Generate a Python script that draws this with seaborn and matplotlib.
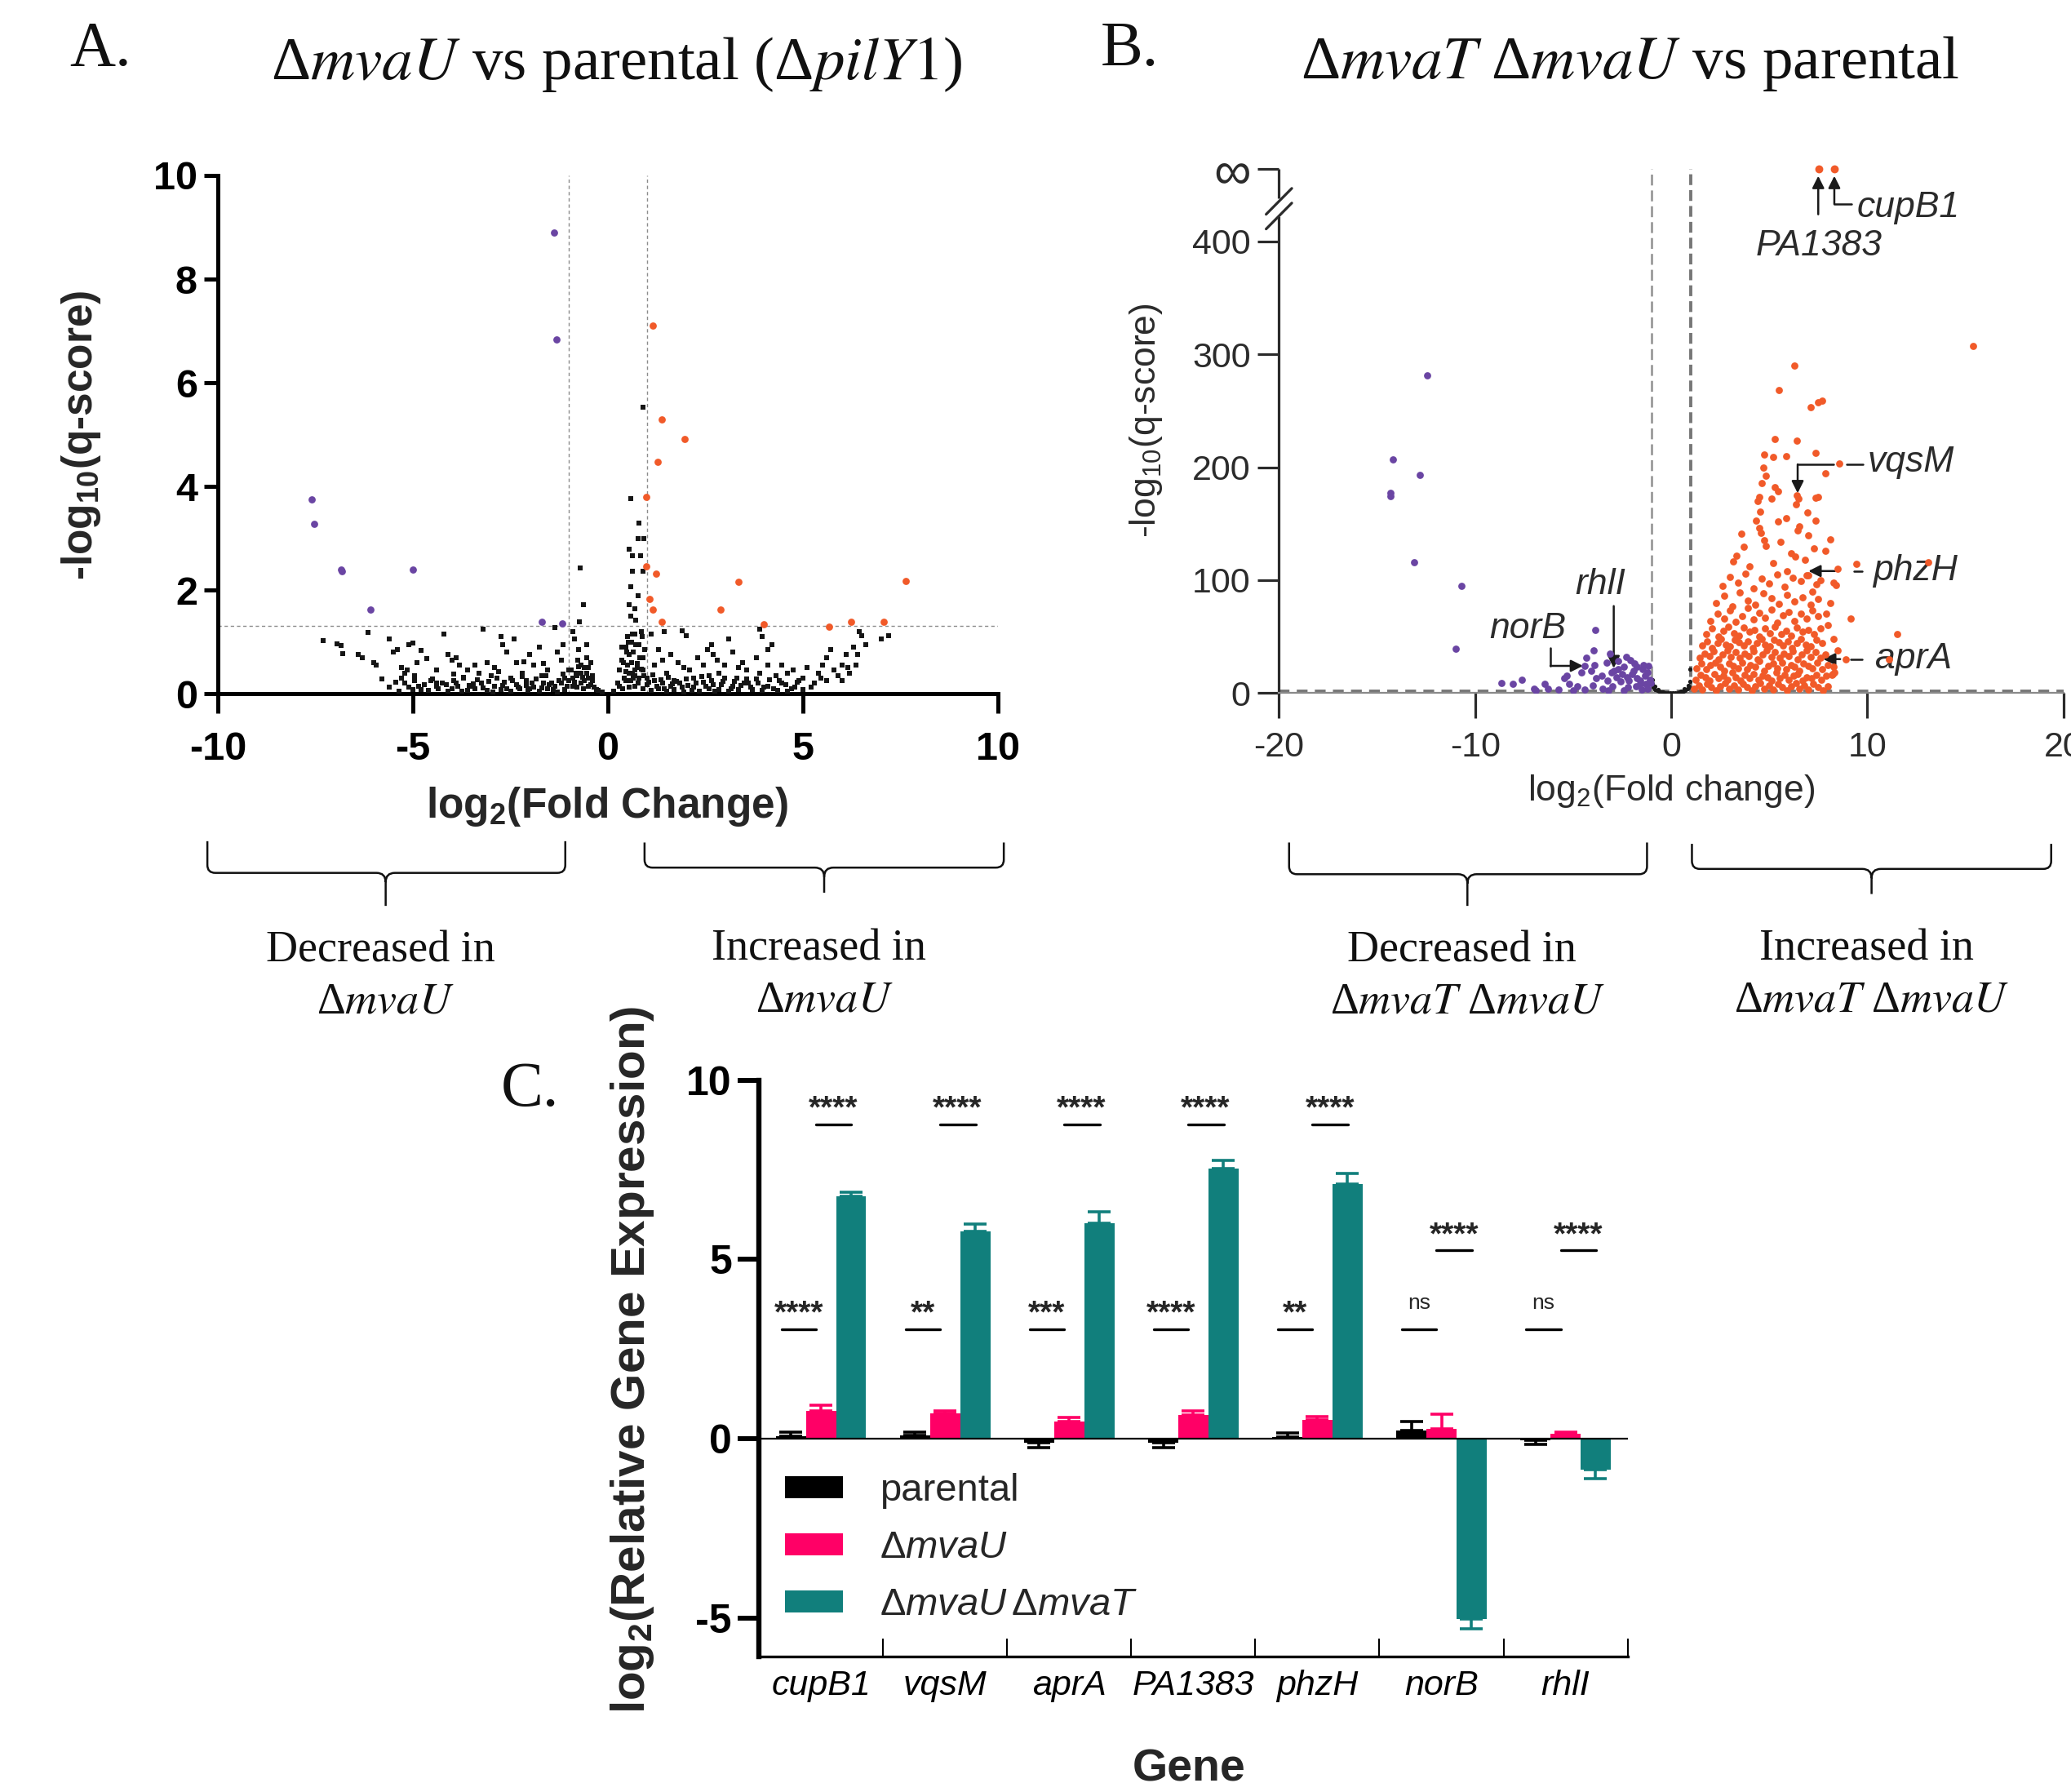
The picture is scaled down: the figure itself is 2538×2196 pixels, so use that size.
import numpy as np
import pandas as pd
import matplotlib
matplotlib.use("Agg")
import matplotlib.pyplot as plt
import seaborn as sns
from matplotlib.path import Path
from matplotlib.patches import PathPatch, Patch

# ======================= DATA =======================
# ---- Panel A : ΔmvaU vs parental (x = log2 FC, y = -log10 q) ----
a_purple = [(-1.39, 8.89), (-1.32, 6.83), (-7.60, 3.75), (-7.54, 3.28), (-6.85, 2.39),
            (-6.81, 2.36), (-5.00, 2.39), (-6.08, 1.62), (-1.69, 1.39), (-1.18, 1.36)]
a_orange = [(1.15, 7.10), (1.38, 5.29), (1.97, 4.92), (1.27, 4.48), (0.99, 3.80), (0.99, 2.46),
            (1.24, 2.32), (3.34, 2.16), (7.63, 2.17), (1.06, 1.82), (1.15, 1.62), (2.89, 1.62),
            (1.38, 1.39), (3.99, 1.34), (5.66, 1.29), (6.24, 1.38), (7.07, 1.38)]
a_black = [(0.89, 5.53), (-0.71, 2.42), (0.59, 3.77), (0.80, 3.29), (0.77, 2.99), (0.92, 2.99),
           (0.54, 2.79), (0.63, 2.66), (0.84, 2.66), (0.63, 2.36), (0.89, 2.36), (0.59, 2.07),
           (0.77, 1.89), (0.54, 1.72), (0.68, 1.64), (0.59, 1.49), (0.71, 1.42), (-0.63, 1.71),
           (-0.73, 1.39),
           (-7.30, 1.03), (-6.95, 0.96), (-6.85, 0.93), (-6.80, 0.78), (-6.40, 0.75), (-6.30, 0.70),
           (-6.15, 1.18), (-6.00, 0.60), (-5.95, 0.55), (-5.80, 0.28), (-5.60, 1.05), (-5.50, 0.80),
           (-5.40, 0.85), (-5.20, 0.40), (-5.15, 0.45), (-5.10, 0.95), (-5.00, 0.98), (-4.95, 0.35),
           (-4.80, 0.83), (-4.65, 0.68), (-4.55, 0.25), (-4.40, 0.20), (-4.20, 1.15), (-4.10, 0.75),
           (-4.00, 0.65), (-3.90, 0.70), (-3.80, 0.55), (-3.70, 0.30), (-3.60, 0.45), (-3.50, 0.15),
           (-3.30, 0.40), (-3.20, 1.25), (-3.10, 0.60), (-3.00, 0.35), (-2.90, 0.50), (-2.75, 1.10),
           (-2.70, 0.95), (-2.60, 0.80), (-2.50, 0.30), (-2.40, 1.05), (-2.35, 0.60), (-2.20, 0.40),
           (-2.10, 0.25), (-2.00, 0.75), (-1.90, 0.55), (-1.75, 0.90), (-1.70, 0.35), (-1.55, 0.45),
           (-1.45, 0.20), (-1.35, 1.28), (-1.30, 0.80), (-1.20, 0.65), (-1.10, 0.30), (-1.00, 0.45),
           (-0.90, 1.20), (-0.85, 1.05), (-0.80, 0.35), (-0.70, 0.55), (-0.60, 0.25), (-0.50, 0.15),
           (0.30, 0.15), (0.40, 0.60), (0.45, 0.90), (0.50, 1.10), (0.55, 0.40), (0.60, 1.00),
           (0.65, 0.80), (0.70, 1.15), (0.75, 0.50), (0.80, 0.95), (0.85, 1.20), (0.90, 0.70),
           (1.00, 0.30), (1.10, 1.15), (1.20, 0.55), (1.30, 0.85), (1.45, 1.20), (1.50, 0.40),
           (1.60, 0.75), (1.70, 0.25), (1.80, 0.60), (1.90, 1.22), (2.00, 1.12), (2.10, 0.45),
           (2.20, 0.30), (2.30, 0.70), (2.45, 0.55), (2.55, 0.85), (2.65, 0.95), (2.70, 0.75),
           (2.80, 0.65), (2.85, 0.40), (3.00, 0.55), (3.10, 1.05), (3.20, 0.80), (3.30, 0.30),
           (3.45, 0.60), (3.55, 0.45), (3.60, 0.20), (3.80, 0.70), (3.90, 1.25), (3.95, 1.10),
           (4.10, 0.55), (4.20, 0.95), (4.30, 0.35), (4.40, 0.25), (4.60, 0.40), (4.75, 0.45),
           (4.90, 0.25), (5.00, 0.30), (5.10, 0.50), (5.30, 0.20), (5.40, 0.40), (5.50, 0.55),
           (5.60, 0.70), (5.70, 0.85), (5.90, 0.35), (6.00, 0.25), (6.10, 0.75), (6.20, 0.40),
           (6.30, 0.90), (6.45, 1.20), (6.50, 1.12), (6.35, 0.55), (7.00, 1.05), (7.20, 1.12),
           (-5.45, 0.22), (-5.30, 0.30), (-5.10, 0.12), (-4.95, 0.25), (-4.80, 0.08), (-4.70, 0.18),
           (-4.50, 0.28), (-4.35, 0.10), (-4.25, 0.21), (-4.10, 0.05), (-3.95, 0.26), (-3.85, 0.14),
           (-3.70, 0.32), (-3.60, 0.07), (-3.45, 0.19), (-3.35, 0.27), (-3.20, 0.11), (-3.05, 0.23),
           (-2.95, 0.04), (-2.85, 0.30), (-2.70, 0.16), (-2.60, 0.09), (-2.45, 0.25), (-2.30, 0.13),
           (-2.20, 0.33), (-2.05, 0.06), (-1.95, 0.20), (-1.85, 0.28), (-1.70, 0.11), (-1.60, 0.35),
           (-1.50, 0.17), (-1.40, 0.08), (-1.25, 0.26), (-1.15, 0.38), (-1.05, 0.14), (-0.95, 0.45),
           (-0.85, 0.22), (-0.75, 0.52), (-0.65, 0.31), (-0.55, 0.40), (-0.45, 0.18), (-0.35, 0.12),
           (-0.25, 0.06), (-0.15, 0.03), (0.15, 0.05), (0.25, 0.20), (0.35, 0.65), (0.45, 0.42),
           (0.55, 0.75), (0.65, 0.30), (0.75, 0.58), (0.85, 0.48), (0.95, 0.85), (1.05, 0.22),
           (1.15, 0.36), (1.25, 0.15), (1.35, 0.27), (1.45, 0.09), (1.55, 0.31), (1.65, 0.19),
           (1.75, 0.24), (1.90, 0.12), (2.00, 0.28), (2.15, 0.07), (2.25, 0.21), (2.40, 0.33),
           (2.50, 0.14), (2.65, 0.26), (2.75, 0.05), (2.90, 0.18), (3.00, 0.30), (3.15, 0.10),
           (3.25, 0.23), (3.40, 0.16), (3.55, 0.29), (3.70, 0.08), (3.85, 0.20), (4.00, 0.12),
           (4.15, 0.27), (4.35, 0.06), (4.55, 0.18), (4.70, 0.10), (4.85, 0.22),
           (-5.30, 0.50), (-4.90, 0.60), (-4.40, 0.45), (-3.95, 0.38), (-3.40, 0.55), (-2.80, 0.42),
           (-2.15, 0.62), (-1.65, 0.58), (-1.15, 0.95), (-0.75, 0.85), (-0.55, 0.70), (-0.40, 0.35),
           (0.35, 0.90), (0.50, 0.55), (0.60, 0.60), (0.70, 0.35), (0.90, 0.45), (1.40, 0.65),
           (1.95, 0.50), (2.60, 0.35), (3.35, 0.50), (3.90, 0.40), (4.45, 0.55), (4.10, 0.85),
           (0.42, 0.30), (0.48, 0.80), (0.52, 1.00), (0.58, 0.25), (0.62, 1.15), (0.68, 0.45),
           (0.72, 0.95), (0.78, 0.20), (0.82, 0.70), (0.88, 1.10), (0.92, 0.35), (0.95, 0.85),
           (-0.45, 0.60), (-0.50, 0.30), (-0.55, 0.95), (-0.60, 0.50), (-0.70, 0.20), (-0.78, 0.65),
           (-0.82, 0.40), (-0.90, 0.15),
           (-5.60, 0.12), (-5.35, 0.05), (-5.20, 0.20), (-5.00, 0.08), (-4.85, 0.15), (-4.60, 0.06),
           (-4.40, 0.14), (-4.15, 0.17), (-4.00, 0.09), (-3.90, 0.20), (-3.75, 0.05), (-3.55, 0.16),
           (-3.40, 0.09), (-3.25, 0.20), (-3.10, 0.06), (-2.90, 0.15), (-2.75, 0.08), (-2.65, 0.22),
           (-2.50, 0.05), (-2.35, 0.18), (-2.25, 0.10), (-2.10, 0.16), (-2.00, 0.09), (-1.90, 0.13),
           (-1.75, 0.05), (-1.65, 0.20), (-1.55, 0.10), (-1.35, 0.15), (-1.30, 0.04), (-1.20, 0.20),
           (-1.10, 0.08), (-1.00, 0.25), (-0.90, 0.30), (-0.80, 0.12), (-0.70, 0.40), (-0.62, 0.10),
           (-0.50, 0.50), (-0.40, 0.25), (-0.30, 0.08), (0.30, 0.45), (0.38, 0.10), (0.45, 0.25),
           (0.55, 0.12), (0.62, 0.40), (0.70, 0.15), (0.80, 0.30), (0.90, 0.10), (1.00, 0.18),
           (1.10, 0.06), (1.20, 0.25), (1.30, 0.10), (1.40, 0.20), (1.50, 0.05), (1.60, 0.14),
           (1.70, 0.08), (1.85, 0.20), (1.95, 0.04), (2.05, 0.16), (2.20, 0.12), (2.35, 0.05),
           (2.45, 0.22), (2.60, 0.10), (2.70, 0.17), (2.85, 0.08), (2.95, 0.24), (3.10, 0.05),
           (3.20, 0.15), (3.35, 0.08), (3.50, 0.20), (3.65, 0.12), (3.80, 0.28), (3.95, 0.06),
           (4.10, 0.15), (4.25, 0.09), (4.45, 0.20), (4.60, 0.05), (4.80, 0.12), (5.00, 0.08),
           (5.20, 0.12), (5.45, 0.30), (5.60, 0.25), (5.80, 0.45), (6.00, 0.55), (6.15, 0.50),
           (6.40, 0.75), (6.60, 0.95)]

# ---- Panel B : ΔmvaT ΔmvaU vs parental ----
b_purple = [(-12.43, 281), (-14.2, 207), (-12.8, 193), (-14.3, 177), (-14.3, 174), (-13.1, 116),
            (-10.7, 95), (-11.0, 39), (-3.87, 56), (-3.95, 38), (-3.12, 35), (-4.31, 31),
            (-4.42, 24), (-4.59, 18), (-2.29, 32), (-2.10, 29), (-1.88, 26), (-1.74, 23),
            (-2.43, 23), (-2.70, 21), (-2.93, 20), (-3.04, 18), (-1.46, 21), (-1.19, 18),
            (-1.33, 15), (-3.54, 15), (-3.81, 13), (-3.26, 11), (-5.47, 13), (-5.33, 15),
            (-5.19, 8), (-4.78, 6), (-6.44, 8), (-6.30, 4), (-7.62, 12), (-8.09, 8), (-8.65, 9),
            (-7.0, 4), (-5.75, 3), (-2.15, 11), (-1.74, 13), (-1.60, 8), (-1.05, 9), (-2.6, 10),
            (-3.0, 6), (-3.5, 4), (-4.0, 7), (-4.4, 3), (-2.2, 5), (-1.5, 3), (-1.3, 8),
            (-2.8, 14), (-2.0, 17), (-1.6, 11), (-3.9, 25), (-4.1, 20), (-1.2, 4), (-1.1, 12),
            (-2.5, 17), (-3.3, 27), (-2.7, 28), (-1.9, 20), (-6.9, 2), (-5.0, 2), (-3.2, 2),
            (-2.4, 2), (-1.8, 6), (-1.4, 25), (-1.15, 24), (-2.25, 14)]
b_orange = [(15.39, 307.6), (6.27, 290.3), (5.50, 268.2), (7.10, 253.3), (7.51, 257.4), (7.68, 259.2),
            (5.30, 224.9), (6.41, 223.2), (7.38, 212.5), (4.75, 211.1), (5.19, 209.0), (5.86, 210.0),
            (8.56, 203.1), (7.85, 194.5), (4.70, 199.7), (4.83, 192.7), (4.61, 185.8), (5.30, 182.4),
            (5.44, 178.9), (6.41, 175.4), (6.49, 172.0), (6.35, 166.8), (4.48, 173.7), (4.39, 170.2),
            (5.11, 172.0), (7.38, 173.0), (7.51, 173.7), (6.96, 159.9), (4.53, 160.6), (4.34, 153.0),
            (5.86, 154.7), (5.44, 151.9), (4.48, 146.0), (4.56, 141.9), (6.55, 147.8), (6.46, 144.3),
            (7.38, 153.0), (8.12, 136.3), (3.59, 140.8), (3.70, 129.4), (4.75, 135.0), (4.83, 130.4),
            (5.58, 133.9), (7.85, 126.0), (3.31, 121.8), (3.15, 116.6), (6.13, 123.5), (6.33, 121.1),
            (6.82, 118.3), (9.45, 114.2), (8.48, 109.7), (13.12, 115.6), (8.29, 97.6), (8.40, 95.8),
            (9.17, 65.7), (11.52, 51.9), (11.10, 30.1), (8.90, 30.1), (8.34, 18.0), (8.20, 16.3),
            (7.3, 128), (7.0, 140), (5.2, 115), (4.0, 112), (5.9, 108), (6.9, 104), (7.6, 100),
            (7.2, 90), (8.1, 80), (8.0, 60), (8.3, 48), (8.5, 38), (7.9, 70),
            (1.15, 4), (1.40, 7), (1.60, 3), (1.85, 8), (2.05, 5), (2.30, 2), (2.50, 6), (2.75, 9),
            (2.95, 4), (3.20, 7), (3.40, 3), (3.65, 8), (3.85, 5), (4.10, 2), (4.30, 6), (4.55, 9),
            (4.75, 4), (5.00, 7), (5.20, 3), (5.45, 8), (5.65, 5), (5.90, 2), (6.10, 6), (6.35, 9),
            (6.55, 4), (6.80, 7), (7.00, 3), (7.25, 8), (7.50, 5), (7.75, 2), (8.00, 6),
            (1.25, 12), (1.50, 16), (1.75, 14), (1.95, 11), (2.20, 17), (2.40, 13), (2.65, 15),
            (2.85, 12), (3.10, 18), (3.30, 14), (3.55, 11), (3.75, 16), (4.00, 13), (4.20, 17),
            (4.45, 12), (4.65, 15), (4.90, 14), (5.10, 11), (5.35, 18), (5.55, 13), (5.80, 16),
            (6.00, 12), (6.25, 15), (6.45, 17), (6.70, 11), (6.90, 14), (7.15, 13), (7.40, 16),
            (7.65, 12), (7.90, 15), (8.25, 17),
            (1.30, 22), (1.55, 26), (1.80, 21), (2.00, 25), (2.25, 27), (2.50, 23), (2.70, 20),
            (2.95, 26), (3.15, 24), (3.40, 22), (3.60, 27), (3.85, 21), (4.05, 25), (4.30, 23),
            (4.50, 28), (4.75, 20), (4.95, 24), (5.20, 26), (5.40, 22), (5.65, 27), (5.85, 21),
            (6.10, 25), (6.30, 23), (6.55, 20), (6.75, 26), (7.00, 24), (7.20, 22), (7.45, 27),
            (7.70, 21), (8.00, 25), (8.30, 23),
            (1.45, 31), (1.70, 35), (1.95, 33), (2.15, 37), (2.40, 30), (2.60, 34), (2.85, 38),
            (3.05, 32), (3.30, 36), (3.50, 31), (3.75, 35), (3.95, 33), (4.20, 37), (4.40, 30),
            (4.65, 34), (4.85, 38), (5.10, 32), (5.30, 36), (5.55, 31), (5.75, 35), (6.00, 33),
            (6.20, 37), (6.45, 30), (6.65, 34), (6.90, 38), (7.10, 32), (7.35, 36), (7.60, 31),
            (7.85, 34),
            (1.60, 42), (1.85, 46), (2.10, 40), (2.35, 44), (2.55, 48), (2.80, 43), (3.00, 41),
            (3.25, 47), (3.45, 45), (3.70, 42), (3.90, 46), (4.15, 40), (4.35, 44), (4.60, 48),
            (4.80, 43), (5.05, 41), (5.25, 47), (5.50, 45), (5.70, 42), (5.95, 46), (6.15, 40),
            (6.40, 44), (6.60, 48), (6.85, 43), (7.10, 41), (7.40, 47), (7.70, 44),
            (1.80, 52), (2.10, 57), (2.40, 50), (2.65, 55), (2.90, 59), (3.20, 53), (3.45, 51),
            (3.70, 58), (4.00, 54), (4.25, 56), (4.50, 50), (4.80, 57), (5.05, 53), (5.30, 59),
            (5.60, 52), (5.85, 55), (6.10, 51), (6.40, 58), (6.70, 54), (7.00, 56), (7.30, 52),
            (7.60, 57),
            (2.00, 64), (2.35, 70), (2.70, 66), (3.00, 73), (3.30, 63), (3.60, 68), (3.90, 75),
            (4.20, 65), (4.50, 71), (4.80, 67), (5.10, 74), (5.40, 62), (5.70, 69), (6.00, 72),
            (6.30, 64), (6.60, 70), (6.90, 66), (7.20, 73), (7.50, 68),
            (2.30, 80), (2.70, 86), (3.10, 77), (3.50, 89), (3.90, 82), (4.30, 78), (4.70, 88),
            (5.10, 84), (5.50, 79), (5.90, 87), (6.30, 81), (6.70, 85), (7.10, 78), (7.50, 83),
            (2.60, 95), (3.00, 103), (3.40, 98), (3.80, 106), (4.20, 93), (4.60, 101), (5.00, 97),
            (5.40, 105), (5.80, 94), (6.20, 102), (6.60, 99), (7.00, 104), (7.40, 96)]
b_black = [(-0.95, 8), (-0.90, 5), (-0.82, 3), (-0.72, 2), (-0.62, 1.5), (-0.52, 1), (-0.42, 0.6),
           (-0.30, 0.3), (-0.18, 0.15), (-0.05, 0.05), (0.08, 0.08), (0.20, 0.15), (0.32, 0.35),
           (0.42, 0.7), (0.52, 1.1), (0.62, 1.8), (0.72, 2.6), (0.82, 3.8), (0.90, 5.5), (0.94, 21),
           (0.97, 10), (-0.97, 12), (-0.85, 6), (0.86, 7), (-0.65, 3), (0.66, 3.5), (-0.45, 1.2),
           (0.48, 1.5)]
b_inf_x = [7.54, 8.34]          # q-score = 0  ->  -log10 = infinity
INF_POS = 464                   # axis position used for the "∞" break level

# ---- Panel C : qRT-PCR ----
genes = ['cupB1', 'vqsM', 'aprA', 'PA1383', 'phzH', 'norB', 'rhlI']
strains = ['parental', 'mvaU', 'mvaUmvaT']
strain_labels = ['parental', 'Δ$\\mathit{mvaU}$', 'Δ$\\mathit{mvaU}\\,$Δ$\\mathit{mvaT}$']
parental_mean = [0.08, 0.10, -0.12, -0.12, 0.06, 0.22, -0.05]
parental_err = [0.10, 0.08, 0.12, 0.12, 0.10, 0.25, 0.10]
mvaU_mean = [0.77, 0.70, 0.49, 0.66, 0.52, 0.27, 0.15]
mvaU_err = [0.16, 0.07, 0.11, 0.11, 0.10, 0.42, 0.04]
double_mean = [6.76, 5.78, 6.01, 7.53, 7.10, -5.03, -0.85]
double_err = [0.11, 0.20, 0.31, 0.22, 0.29, 0.27, 0.27]
sig_low = ['****', '**', '***', '****', '**', 'ns', 'ns']
sig_high = ['****', '****', '****', '****', '****', '****', '****']
sig_low_y = [3.06, 3.06, 3.06, 3.06, 3.06, 3.06, 3.06]
sig_high_y = [8.77, 8.77, 8.77, 8.77, 8.77, 5.25, 5.25]

# ======================= STYLE =======================
sns.set_theme(style="white")
plt.rcParams['font.family'] = ['Liberation Sans', 'DejaVu Sans']
plt.rcParams['axes.unicode_minus'] = False
plt.rcParams['mathtext.fontset'] = 'custom'
plt.rcParams['mathtext.rm'] = 'Liberation Sans'
plt.rcParams['mathtext.it'] = 'Liberation Sans:italic'
plt.rcParams['mathtext.bf'] = 'Liberation Sans:bold'
plt.rcParams['mathtext.default'] = 'regular'

PURPLE = '#6A45A3'
ORANGE = '#F15A29'
PINK = '#FF0066'
TEAL = '#117F7C'
GREY_TXT = '#2b2b2b'
SERIF = ['Liberation Serif', 'DejaVu Serif']


def xy(pts):
    a = np.asarray(pts, dtype=float)
    return a[:, 0], a[:, 1]


fig = plt.figure(figsize=(25.38, 21.96), dpi=100)

# overlay in reference-pixel coordinates for decorations
ov = fig.add_axes([0, 0, 1, 1])
ov.set_xlim(0, 1568)
ov.set_ylim(1357, 0)
ov.axis('off')


def brace(x0, x1, xc, ytop, yline, ytip, r=6, r2=7):
    verts = [(x0, ytop), (x0, yline - r), (x0, yline), (x0 + r, yline), (xc - r2, yline),
             (xc, yline), (xc, yline + r2), (xc, ytip),
             (xc, yline + r2), (xc, yline), (xc + r2, yline), (x1 - r, yline), (x1, yline),
             (x1, yline - r), (x1, ytop)]
    codes = [Path.MOVETO, Path.LINETO, Path.CURVE3, Path.CURVE3, Path.LINETO,
             Path.CURVE3, Path.CURVE3, Path.LINETO,
             Path.MOVETO, Path.CURVE3, Path.CURVE3, Path.LINETO, Path.CURVE3,
             Path.CURVE3, Path.LINETO]
    ov.add_patch(PathPatch(Path(verts, codes), facecolor='none', edgecolor='#111111', lw=1.8))


brace(157, 428, 292, 637, 661, 686)
brace(488, 760, 624, 638, 657, 676)
brace(976, 1247, 1111, 638, 662, 686)
brace(1281, 1553, 1417, 639, 658, 677)

serif_kw = dict(family=SERIF, math_fontfamily='stix', ha='center', va='center', color='#111111')
ov.text(76, 38, 'A.', fontsize=56, **serif_kw)
ov.text(855, 38, 'B.', fontsize=56, **serif_kw)
ov.text(401, 826, 'C.', fontsize=56, **serif_kw)
ov.text(467, 49, 'Δ$\\mathit{mvaU}$ vs parental (Δ$\\mathit{pilY1}$)', fontsize=54, **serif_kw)
ov.text(1234, 48, 'Δ$\\mathit{mvaT}$ Δ$\\mathit{mvaU}$ vs parental', fontsize=54, **serif_kw)
ov.text(288, 720, 'Decreased in', fontsize=39, **serif_kw)
ov.text(292, 759, 'Δ$\\mathit{mvaU}$', fontsize=39, **serif_kw)
ov.text(620, 719, 'Increased in', fontsize=39, **serif_kw)
ov.text(624, 758, 'Δ$\\mathit{mvaU}$', fontsize=39, **serif_kw)
ov.text(1107, 720, 'Decreased in', fontsize=39, **serif_kw)
ov.text(1111, 759, 'Δ$\\mathit{mvaT}$ Δ$\\mathit{mvaU}$', fontsize=39, **serif_kw)
ov.text(1413, 719, 'Increased in', fontsize=39, **serif_kw)
ov.text(1417, 758, 'Δ$\\mathit{mvaT}$ Δ$\\mathit{mvaU}$', fontsize=39, **serif_kw)

# ======================= PANEL A =======================
axA = fig.add_axes([0.1052, 0.6129, 0.3767, 0.2892])
bx, by = xy(a_black)
sns.scatterplot(x=bx, y=by, color='#151515', marker='s', s=18, linewidth=0, ax=axA, zorder=3)
px, py = xy(a_purple)
sns.scatterplot(x=px, y=py, color=PURPLE, s=40, linewidth=0, ax=axA, zorder=4)
ox, oy = xy(a_orange)
sns.scatterplot(x=ox, y=oy, color=ORANGE, s=40, linewidth=0, ax=axA, zorder=4)
for xv in (-1, 1):
    axA.axvline(xv, color='#8c8c8c', lw=1.0, dashes=(3, 2.5), zorder=1)
axA.axhline(-np.log10(0.05), color='#8c8c8c', lw=1.0, dashes=(3, 2.5), zorder=1)
axA.set_xlim(-10, 10)
axA.set_ylim(0, 10)
axA.set_xticks([-10, -5, 0, 5, 10])
axA.set_yticks([0, 2, 4, 6, 8, 10])
sns.despine(ax=axA)
for s in ('left', 'bottom'):
    axA.spines[s].set_linewidth(3.6)
    axA.spines[s].set_color('black')
axA.tick_params(axis='x', direction='out', length=17, width=3.6, labelsize=35, pad=16,
                bottom=True, colors='black')
axA.tick_params(axis='y', direction='out', length=12, width=3.6, labelsize=35, pad=6,
                left=True, colors='black')
for lab in axA.get_xticklabels() + axA.get_yticklabels():
    lab.set_fontweight('bold')
axA.set_xlabel('log$_2$(Fold Change)', fontsize=37, fontweight='bold')
axA.set_ylabel('-log$_{10}$(q-score)', fontsize=37, fontweight='bold')
axA.xaxis.set_label_coords(0.499, -0.176)
axA.yaxis.set_label_coords(-0.148, 0.498)
axA.patch.set_alpha(0)

# ======================= PANEL B =======================
axB = fig.add_axes([0.6176, 0.6133, 0.3787, 0.2923])
kx, ky = xy(b_black)
sns.scatterplot(x=kx, y=ky, color='#1a1a1a', s=14, linewidth=0, ax=axB, zorder=3)
px, py = xy(b_purple)
sns.scatterplot(x=px, y=py, color=PURPLE, s=40, linewidth=0, ax=axB, zorder=4)
ox, oy = xy(b_orange)
sns.scatterplot(x=ox, y=oy, color=ORANGE, s=40, linewidth=0, ax=axB, zorder=4)
sns.scatterplot(x=b_inf_x, y=[INF_POS] * len(b_inf_x), color=ORANGE, s=50, linewidth=0,
                ax=axB, zorder=5, clip_on=False)
axB.axvline(-1, color='#9a9a9a', lw=2.0, dashes=(4.8, 2.2), zorder=2)
axB.axvline(1, color='#777777', lw=2.8, dashes=(3.4, 1.6), zorder=2)
axB.axhline(-np.log10(0.05), color='#777777', lw=2.8, dashes=(3.4, 2.3), zorder=2)
axB.set_xlim(-20, 20)
axB.set_ylim(0, INF_POS)
axB.set_xticks([-20, -10, 0, 10, 20])
axB.set_yticks([0, 100, 200, 300, 400, INF_POS])
axB.set_yticklabels(['0', '100', '200', '300', '400', '∞'])
sns.despine(ax=axB)
axB.spines['left'].set_bounds(0, 421)
axB.spines['left'].set_linewidth(2.3)
axB.spines['left'].set_color('#2b2b2b')
axB.spines['bottom'].set_linewidth(1.6)
axB.spines['bottom'].set_color('#8a8a8a')
axB.plot([-20, -20], [438, INF_POS], color='#2b2b2b', lw=2.3, clip_on=False,
         solid_capstyle='butt', zorder=5)
axB.plot([-20.66, -19.35], [424, 447], color='#2b2b2b', lw=2.3, clip_on=False, zorder=5)
axB.plot([-20.66, -19.35], [411, 434], color='#2b2b2b', lw=2.3, clip_on=False, zorder=5)
axB.tick_params(axis='y', direction='out', length=19, width=2.3, labelsize=31, pad=6,
                left=True, colors=GREY_TXT)
axB.tick_params(axis='x', direction='out', length=22, width=2.3, labelsize=31, pad=12,
                bottom=True, colors=GREY_TXT)
axB.get_yticklabels()[-1].set_fontsize(46)
axB.set_xlabel('log$_2$(Fold change)', fontsize=32, color=GREY_TXT)
axB.set_ylabel('-log$_{10}$(q-score)', fontsize=32, color=GREY_TXT)
axB.xaxis.set_label_coords(0.4995, -0.152)
axB.yaxis.set_label_coords(-0.146, 0.521)
axB.patch.set_alpha(0)

ann_kw = dict(fontsize=32, fontstyle='italic', color=GREY_TXT)
arr = dict(arrowstyle='-|>', color='#1a1a1a', lw=1.8, mutation_scale=22, shrinkA=0, shrinkB=0)
line_kw = dict(color='#1a1a1a', lw=1.8, clip_on=False, zorder=6)
# PA1383 / cupB1
axB.annotate('', xy=(7.50, 458), xytext=(7.50, 424), arrowprops=arr, annotation_clip=False)
axB.plot([9.2, 8.32], [433, 433], **line_kw)
axB.annotate('', xy=(8.32, 458), xytext=(8.32, 433), arrowprops=arr, annotation_clip=False)
axB.text(9.45, 430, 'cupB1', ha='left', va='center', **ann_kw)
axB.text(7.55, 396, 'PA1383', ha='center', va='center', **ann_kw)
# vqsM
axB.plot([9.78, 8.95], [202.5, 202.5], **line_kw)
axB.plot([8.3, 6.45], [202.5, 202.5], **line_kw)
axB.annotate('', xy=(6.45, 177), xytext=(6.45, 202.5), arrowprops=arr)
axB.text(10.0, 204, 'vqsM', ha='left', va='center', **ann_kw)
# phzH
axB.plot([9.72, 9.3], [108, 108], **line_kw)
axB.annotate('', xy=(7.0, 108), xytext=(8.35, 108), arrowprops=arr)
axB.text(10.28, 108, 'phzH', ha='left', va='center', **ann_kw)
# aprA
axB.plot([9.72, 9.17], [30, 30], **line_kw)
axB.annotate('', xy=(7.75, 30), xytext=(8.62, 30), arrowprops=arr)
axB.text(10.4, 30, 'aprA', ha='left', va='center', **ann_kw)
# rhlI
axB.annotate('', xy=(-2.93, 22), xytext=(-2.93, 77), arrowprops=arr)
axB.text(-3.6, 96, 'rhlI', ha='center', va='center', **ann_kw)
# norB
axB.plot([-6.16, -6.16], [40, 24], **line_kw)
axB.annotate('', xy=(-4.5, 24), xytext=(-6.16, 24), arrowprops=arr)
axB.text(-7.3, 57, 'norB', ha='center', va='center', **ann_kw)

# ======================= PANEL C =======================
axC = fig.add_axes([0.3665, 0.0758, 0.4194, 0.3215])
dfC = pd.DataFrame({
    'gene': genes * 3,
    'strain': [s for s in strains for _ in genes],
    'value': parental_mean + mvaU_mean + double_mean,
    'err': parental_err + mvaU_err + double_err,
})
colors = ['#000000', PINK, TEAL]
sns.barplot(data=dfC, x='gene', y='value', hue='strain', order=genes, hue_order=strains,
            palette=colors, width=0.727, gap=0, errorbar=None, saturation=1, legend=False,
            linewidth=0, edgecolor='none', ax=axC, zorder=3)
for cont, strain, col in zip(axC.containers, strains, colors):
    sub = dfC[dfC['strain'] == strain].set_index('gene').loc[genes]
    xs = [b.get_x() + b.get_width() / 2 for b in cont]
    vals = sub['value'].to_numpy()
    errs = sub['err'].to_numpy()
    lower = np.where(vals < 0, errs, 0)
    upper = np.where(vals >= 0, errs, 0)
    axC.errorbar(xs, vals, yerr=[lower, upper], fmt='none', ecolor=col, elinewidth=2.6,
                 capsize=10, capthick=2.6, zorder=2)
axC.axhline(0, color='black', lw=1.6, zorder=4)
axC.set_xlim(-0.5, 6.5)
axC.set_ylim(-6.06, 10)
axC.set_yticks([-5, 0, 5, 10])
axC.set_xticks(range(len(genes)))
axC.set_xticklabels(genes, fontstyle='italic')
axC.set_xticks([i + 0.5 for i in range(len(genes))], minor=True)
sns.despine(ax=axC)
axC.spines['left'].set_linewidth(4.6)
axC.spines['bottom'].set_linewidth(2.4)
for s in ('left', 'bottom'):
    axC.spines[s].set_color('black')
axC.tick_params(axis='y', direction='out', length=19, width=4.3, labelsize=36, pad=5,
                left=True, colors='black')
axC.tick_params(axis='x', which='major', length=0, labelsize=31, pad=12, colors='black')
axC.tick_params(axis='x', which='minor', direction='in', length=16, width=1.5,
                bottom=True, colors='black')
for lab in axC.get_yticklabels():
    lab.set_fontweight('bold')
axC.set_xlabel('Gene', fontsize=40, fontweight='bold')
axC.set_ylabel('log$_2$(Relative Gene Expression)', fontsize=42, fontweight='bold')
axC.xaxis.set_label_coords(0.4947, -0.160)
axC.yaxis.set_label_coords(-0.119, 0.514)
axC.patch.set_alpha(0)

for i in range(len(genes)):
    axC.plot([i - 0.32, i - 0.04], [sig_low_y[i]] * 2, color='black', lw=2.4, zorder=5)
    axC.plot([i - 0.04, i + 0.245], [sig_high_y[i]] * 2, color='black', lw=2.4, zorder=5)
    if sig_low[i] == 'ns':
        axC.text(i - 0.18, sig_low_y[i] + 0.55, 'ns', ha='center', va='baseline', fontsize=19)
    else:
        axC.text(i - 0.18, sig_low_y[i] + 0.18, sig_low[i], ha='center', va='baseline',
                 fontsize=28, fontweight='bold')
    axC.text(i + 0.10, sig_high_y[i] + 0.18, sig_high[i], ha='center', va='baseline',
             fontsize=28, fontweight='bold')

handles = [Patch(facecolor=c, edgecolor='none') for c in colors]
axC.legend(handles, strain_labels, loc='upper left', bbox_to_anchor=(0.03, 0.318),
           frameon=False, fontsize=34, handlelength=1.5, handleheight=0.5,
           handletextpad=0.95, labelspacing=0.55, borderpad=0, borderaxespad=0)

fig.savefig('out.png', dpi=100)
